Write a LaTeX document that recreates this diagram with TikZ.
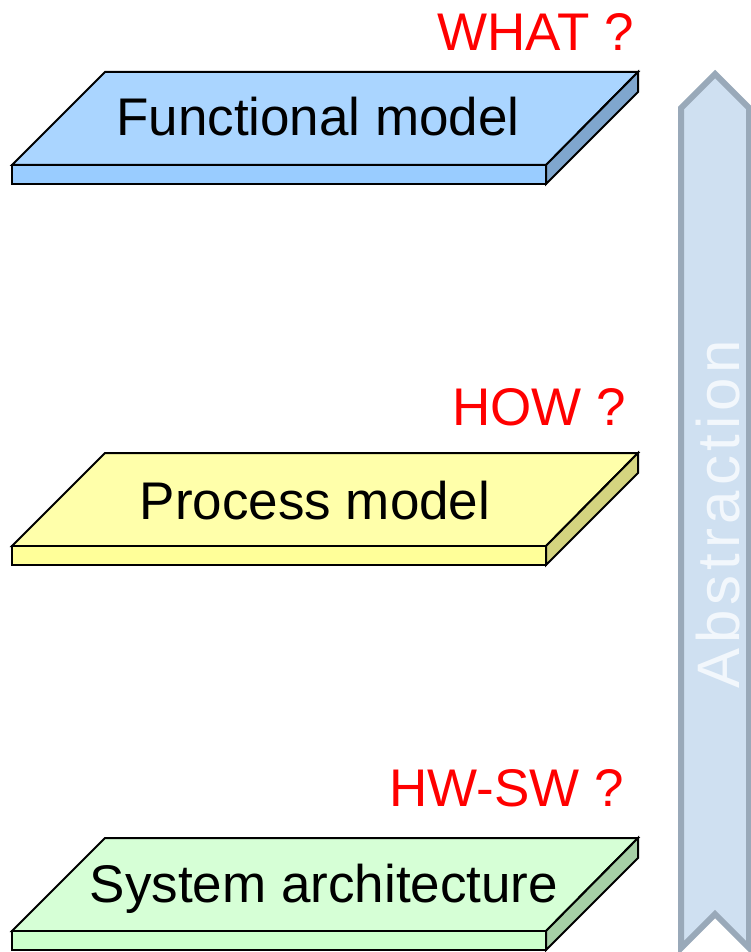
\documentclass[tikz,border=0pt]{standalone}
\usepackage{fontspec}
\setmainfont{Liberation Sans}
\begin{document}
\begin{tikzpicture}[x=1pt,y=-1pt,
  edge/.style={draw=black,line width=2pt,line join=miter},
  slabtext/.style={font=\fontsize{53}{56}\selectfont,anchor=base,inner sep=0pt},
  question/.style={font=\fontsize{53}{56}\selectfont,text=red,anchor=base east,inner sep=0pt},
  arrowbody/.style={draw=arrowedge,fill=arrowfill,line width=6pt,line join=miter}]
\definecolor{blueTop}{HTML}{AAD5FF}
\definecolor{blueFront}{HTML}{99CCFF}
\definecolor{blueSide}{HTML}{7FA6CE}
\definecolor{yellowTop}{HTML}{FFFFAA}
\definecolor{yellowFront}{HTML}{FFFF99}
\definecolor{yellowSide}{HTML}{D4D47F}
\definecolor{greenTop}{HTML}{D6FFD6}
\definecolor{greenFront}{HTML}{CCFFCC}
\definecolor{greenSide}{HTML}{A6CFA6}
\definecolor{arrowfill}{HTML}{CFE0F1}
\definecolor{arrowedge}{HTML}{99A9B9}
\definecolor{arrowtext}{HTML}{F2F7FC}
\useasboundingbox (0,0) rectangle (751,952);
% one flat slab: #1 top y, #2 top, #3 front, #4 side colour
\newcommand\drawslab[4]{%
  \draw[edge,fill=#2] (105,#1) -- (638,#1) -- (546,#1+93) -- (12,#1+93) -- cycle;
  \draw[edge,fill=#3] (12,#1+93) -- (546,#1+93) -- (546,#1+112) -- (12,#1+112) -- cycle;
  \draw[edge,fill=#4] (546,#1+93) -- (638,#1) -- (638,#1+20) -- (546,#1+112) -- cycle;}
\drawslab{72}{blueTop}{blueFront}{blueSide}
\drawslab{453}{yellowTop}{yellowFront}{yellowSide}
\drawslab{838}{greenTop}{greenFront}{greenSide}
\node[slabtext] (functional) at (318,136) {Functional model};
\node[slabtext] (process) at (315,519) {Process model};
\node[slabtext] (system) at (324,902) {System architecture};
\node[question] (what) at (634,51) {WHAT ?};
\node[question] (how) at (626,425) {HOW ?};
\node[question] (hwsw) at (624,806) {HW-SW ?};
% abstraction arrow
\draw[arrowbody] (715,74) -- (749,108) -- (749,948) -- (715,914) -- (681,948) -- (681,108) -- cycle;
\node[rotate=90,text=arrowtext,inner sep=0pt,
  font=\fontsize{60}{64}\selectfont\addfontfeatures{LetterSpace=8}] (abstraction) at (718,514) {Abstraction};
\end{tikzpicture}
\end{document}
